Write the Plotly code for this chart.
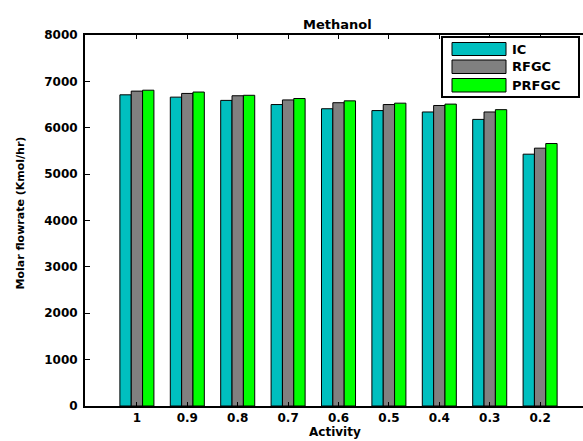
import plotly.graph_objects as go

activity = ["1", "0.9", "0.8", "0.7", "0.6", "0.5", "0.4", "0.3", "0.2"]
ic = [6710, 6660, 6590, 6500, 6410, 6370, 6340, 6180, 5430]
rfgc = [6790, 6740, 6690, 6600, 6540, 6500, 6480, 6340, 5560]
prfgc = [6810, 6770, 6700, 6630, 6580, 6530, 6510, 6390, 5660]
series_names = ["IC", "RFGC", "PRFGC"]
series_colors = ["#00BFBF", "#808080", "#00FF00"]
y_ticks = [0, 1000, 2000, 3000, 4000, 5000, 6000, 7000, 8000]

FONT = "DejaVu Sans"

fig = go.Figure()
for name, vals, col in zip(series_names, [ic, rfgc, prfgc], series_colors):
    fig.add_trace(go.Bar(x=activity, y=vals, name=name,
                         marker=dict(color=col, line=dict(color="black", width=1)),
                         showlegend=False, hoverinfo="skip"))

# plot area in pixels
L, R, T, B = 85, 590, 35, 406
W, H = R - L, B - T
def px(x):
    return (x - L) / W
def py(y):
    return (B - y) / H

shapes = []
annotations = []
# legend box
shapes.append(dict(type="rect", xref="paper", yref="paper",
                   x0=px(442), x1=px(579), y0=py(97), y1=py(37),
                   line=dict(color="black", width=2), fillcolor="white", layer="above"))
rows = [(42.5, 55.5), (60, 73.5), (78.5, 92)]
for (y0, y1), name, col in zip(rows, series_names, series_colors):
    shapes.append(dict(type="rect", xref="paper", yref="paper",
                       x0=px(452), x1=px(506), y0=py(y1), y1=py(y0),
                       line=dict(color="black", width=1), fillcolor=col, layer="above"))
    annotations.append(dict(xref="paper", yref="paper", x=px(510), y=py((y0 + y1) / 2),
                            text=name, showarrow=False, xanchor="left", yanchor="middle",
                            font=dict(family=FONT, size=13, color="black", weight="bold")))

annotations.append(dict(xref="paper", yref="paper", x=px(337), y=py(24), text="Methanol",
                        showarrow=False, xanchor="center", yanchor="middle",
                        font=dict(family=FONT, size=13, color="black", weight="bold")))
annotations.append(dict(xref="paper", yref="paper", x=px(335), y=py(432), text="Activity",
                        showarrow=False, xanchor="center", yanchor="middle",
                        font=dict(family=FONT, size=12, color="black", weight="bold")))
annotations.append(dict(xref="paper", yref="paper", x=px(19.5), y=py(213),
                        text="Molar flowrate (Kmol/hr)", textangle=-90,
                        showarrow=False, xanchor="center", yanchor="middle",
                        font=dict(family=FONT, size=11, color="black", weight="bold")))

fig.update_layout(
    width=590, height=441,
    margin=dict(l=L, r=590 - R, t=T, b=441 - B),
    paper_bgcolor="white", plot_bgcolor="white",
    barmode="group", bargap=0.325, bargroupgap=0,
    shapes=shapes, annotations=annotations,
    font=dict(family=FONT, color="black"),
    hovermode=False,
)
fig.update_xaxes(type="category", range=[-1.03, 8.99],
                 showline=True, linecolor="black", linewidth=2, mirror="ticks",
                 ticks="inside", ticklen=4, tickcolor="black", tickwidth=1,
                 showgrid=False, zeroline=False,
                 tickfont=dict(family=FONT, size=12, color="black", weight="bold"))
fig.update_yaxes(range=[0, 8000], tickvals=y_ticks,
                 showline=True, linecolor="black", linewidth=2, mirror=False,
                 ticks="inside", ticklen=5, tickcolor="black", tickwidth=1,
                 showgrid=False, zeroline=False, ticklabelstandoff=3,
                 tickfont=dict(family=FONT, size=12, color="black", weight="bold"))

fig.write_html("out.html", config={"displayModeBar": False, "staticPlot": True},
               post_script="document.body.style.margin='0px';document.body.style.overflow='hidden';")
